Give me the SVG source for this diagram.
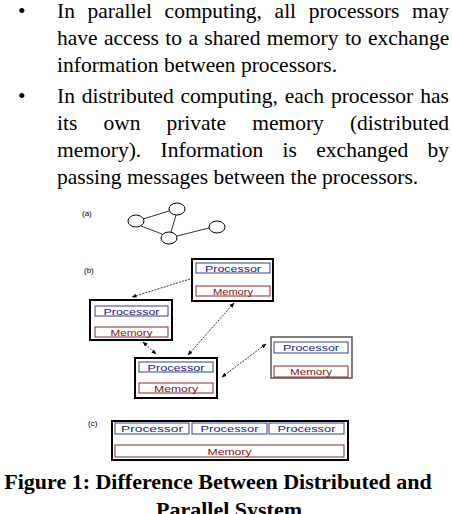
<svg xmlns="http://www.w3.org/2000/svg" width="452" height="514" viewBox="0 0 452 514">
<defs>
<marker id="ah" viewBox="0 0 10 10" refX="9" refY="5" markerWidth="5" markerHeight="5" orient="auto-start-reverse" markerUnits="userSpaceOnUse">
<path d="M0,1 L10,5 L0,9 Z" fill="#000"/>
</marker>
<marker id="sh" viewBox="0 0 10 10" refX="9" refY="5" markerWidth="4" markerHeight="4" orient="auto-start-reverse" markerUnits="userSpaceOnUse">
<path d="M0,0 L10,5 L0,10 Z" fill="#000"/>
</marker>
</defs>
<style>
.body{font-family:"Liberation Serif","Times New Roman",serif;font-size:21.5px;fill:#000}
.cap{font-family:"Liberation Serif","Times New Roman",serif;font-size:22px;font-weight:bold;fill:#000}
.lbl{font-family:"Liberation Sans",Arial,sans-serif;font-size:8px;fill:#000}
.node{fill:#fff;stroke:#000;stroke-width:1}
.outer{fill:#fff;stroke:#000;stroke-width:2}
.proc{fill:#fff;stroke:#3a3a9a;stroke-width:1}
.mem{fill:#fff;stroke:#8a2a2a;stroke-width:1}
.pt{font-family:"Liberation Sans",Arial,sans-serif;font-size:9.5px;fill:#1a1a80;text-anchor:middle}
.mt{font-family:"Liberation Sans",Arial,sans-serif;font-size:9.5px;fill:#7a1515;text-anchor:middle}
.edge{stroke:#000;stroke-width:0.8;fill:none}
.conn{stroke:#000;stroke-width:0.8;fill:none;stroke-dasharray:2 1.2;marker-start:url(#ah);marker-end:url(#ah)}
.one{stroke:#000;stroke-width:0.8;fill:none;stroke-dasharray:2 1.2;marker-end:url(#ah)}
.dbl{stroke:#000;stroke-width:1;fill:none;marker-start:url(#sh);marker-end:url(#sh)}
</style>

<g id="text">
<text class="body" x="18" y="18">•</text>
<text class="body" y="18"><tspan x="57">In</tspan><tspan x="87.5">parallel</tspan><tspan x="164.6">computing,</tspan><tspan x="274.6">all</tspan><tspan x="308.7">processors</tspan><tspan x="412.1">may</tspan></text>
<text class="body" y="45"><tspan x="57">have</tspan><tspan x="104">access</tspan><tspan x="165.3">to</tspan><tspan x="188.4">a</tspan><tspan x="204.3">shared</tspan><tspan x="266.8">memory</tspan><tspan x="344.9">to</tspan><tspan x="368">exchange</tspan></text>
<text class="body" x="57" y="72">information between processors.</text>
<text class="body" x="18" y="103">•</text>
<text class="body" y="103"><tspan x="57">In</tspan><tspan x="81.7">distributed</tspan><tspan x="180.5">computing,</tspan><tspan x="284.7">each</tspan><tspan x="330.9">processor</tspan><tspan x="420.2">has</tspan></text>
<text class="body" y="130"><tspan x="57">its</tspan><tspan x="103.4">own</tspan><tspan x="166.4">private</tspan><tspan x="252.2">memory</tspan><tspan x="349.9">(distributed</tspan></text>
<text class="body" y="157"><tspan x="57">memory).</tspan><tspan x="160.6">Information</tspan><tspan x="282.6">is</tspan><tspan x="316.3">exchanged</tspan><tspan x="427.6">by</tspan></text>
<text class="body" x="57" y="184">passing messages between the processors.</text>
</g>

<g id="connectors">
<line class="edge" x1="143" y1="219" x2="169" y2="211"/>
<line class="edge" x1="141" y1="226" x2="162" y2="234"/>
<line class="edge" x1="176" y1="215" x2="171" y2="232"/>
<line class="edge" x1="177" y1="236" x2="209" y2="228"/>
<line class="one" x1="190" y1="279" x2="132" y2="297"/>
<line class="conn" x1="234" y1="303" x2="188" y2="355"/>
<line class="conn" x1="143" y1="342" x2="156" y2="354"/>
<line class="conn" x1="222" y1="377" x2="266" y2="344"/>
<line class="dbl" x1="233" y1="275" x2="233" y2="285"/>
<line class="dbl" x1="132" y1="317" x2="132" y2="326"/>
<line class="dbl" x1="177" y1="373" x2="177" y2="382"/>
<line class="dbl" x1="311" y1="354" x2="311" y2="366"/>
<line class="dbl" x1="152" y1="435" x2="152" y2="444"/>
<line class="dbl" x1="229" y1="435" x2="229" y2="444"/>
<line class="dbl" x1="307" y1="435" x2="307" y2="444"/>
</g>

<g id="diagram-a">
<text class="lbl" x="82" y="216">(a)</text>
<g id="a1"><ellipse class="node" cx="136" cy="221" rx="8" ry="6"/></g>
<g id="a2"><ellipse class="node" cx="177" cy="209" rx="8" ry="6"/></g>
<g id="a3"><ellipse class="node" cx="169" cy="238" rx="8" ry="6"/></g>
<g id="a4"><ellipse class="node" cx="217" cy="227" rx="8" ry="6"/></g>
</g>

<text class="lbl" x="84" y="273">(b)</text>

<g id="b1">
<rect class="outer" x="192" y="259" width="81" height="42"/>
<rect class="proc" x="196" y="263" width="74" height="10"/>
<text class="pt" x="233" y="271.5" textLength="56" lengthAdjust="spacingAndGlyphs">Processor</text>
<rect class="mem" x="196" y="286" width="74" height="10"/>
<text class="mt" x="233" y="294.5" textLength="40" lengthAdjust="spacingAndGlyphs">Memory</text>
</g>
<g id="b2">
<rect class="outer" x="90" y="300" width="82" height="40"/>
<rect class="proc" x="95" y="306" width="73" height="10"/>
<text class="pt" x="131.5" y="314.5" textLength="56" lengthAdjust="spacingAndGlyphs">Processor</text>
<rect class="mem" x="95" y="327" width="73" height="10"/>
<text class="mt" x="131.5" y="335.5" textLength="42" lengthAdjust="spacingAndGlyphs">Memory</text>
</g>
<g id="b3">
<rect class="outer" x="135" y="358" width="82" height="40"/>
<rect class="proc" x="139" y="362" width="74" height="10"/>
<text class="pt" x="176" y="370.5" textLength="57" lengthAdjust="spacingAndGlyphs">Processor</text>
<rect class="mem" x="139" y="383" width="74" height="10"/>
<text class="mt" x="176" y="391.5" textLength="44" lengthAdjust="spacingAndGlyphs">Memory</text>
</g>
<g id="b4">
<rect class="outer" x="271" y="337" width="81" height="41" style="stroke:#555;stroke-width:1.5"/>
<rect class="proc" x="274" y="342" width="74" height="11"/>
<text class="pt" x="311" y="351" textLength="56" lengthAdjust="spacingAndGlyphs">Processor</text>
<rect class="mem" x="274" y="366" width="74" height="11"/>
<text class="mt" x="311" y="375" textLength="42" lengthAdjust="spacingAndGlyphs">Memory</text>
</g>

<text class="lbl" x="88" y="426">(c)</text>
<g id="c">
<rect class="outer" x="112" y="421" width="236" height="39"/>
<rect class="proc" x="115" y="423" width="74" height="11"/>
<text class="pt" x="152" y="432" textLength="62" lengthAdjust="spacingAndGlyphs">Processor</text>
<rect class="proc" x="192" y="423" width="75" height="11"/>
<text class="pt" x="229.5" y="432" textLength="58" lengthAdjust="spacingAndGlyphs">Processor</text>
<rect class="proc" x="269" y="423" width="75" height="11"/>
<text class="pt" x="306.5" y="432" textLength="58" lengthAdjust="spacingAndGlyphs">Processor</text>
<rect class="mem" x="115" y="445" width="229" height="12"/>
<text class="mt" x="229.5" y="454.5" textLength="44" lengthAdjust="spacingAndGlyphs">Memory</text>
</g>

<g id="caption">
<text class="cap" x="218" y="489" text-anchor="middle">Figure 1: Difference Between Distributed and</text>
<text class="cap" x="229" y="517" text-anchor="middle">Parallel System</text>
</g>
</svg>
